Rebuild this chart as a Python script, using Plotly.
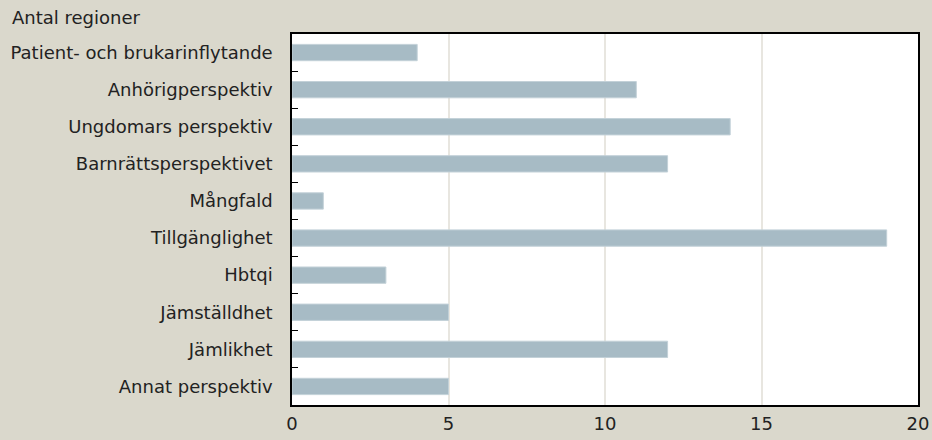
import plotly.graph_objects as go

categories = ["Patient- och brukarinflytande", "Anhörigperspektiv", "Ungdomars perspektiv",
              "Barnrättsperspektivet", "Mångfald", "Tillgänglighet", "Hbtqi",
              "Jämställdhet", "Jämlikhet", "Annat perspektiv"]
values = [4, 11, 14, 12, 1, 19, 3, 5, 12, 5]
x_ticks = [0, 5, 10, 15, 20]
y_title = "Antal regioner"

FONT = "DejaVu Sans"
FS = 18
fig = go.Figure(go.Bar(
    x=values, y=categories, orientation="h",
    marker=dict(color="#A7BBC5", line=dict(color="#C3D1D8", width=1)),
    width=0.44,
))
fig.update_layout(
    width=932, height=440,
    margin=dict(l=292, r=14, t=34, b=35, autoexpand=False),
    paper_bgcolor="#DAD8CC", plot_bgcolor="#FFFFFF",
    font=dict(family=FONT, size=FS, color="#222222"),
    showlegend=False,
    bargap=0.55,
)
fig.update_xaxes(
    range=[0, 20], tickvals=x_ticks, ticks="", showgrid=True, gridcolor="#E8E6E0", gridwidth=1.5,
    showline=True, linecolor="#000000", linewidth=1.5, mirror=True, zeroline=False, automargin=False,
    ticklabelstandoff=2, tickfont=dict(family=FONT, size=FS, color="#222222"),
)
fig.update_yaxes(
    autorange="reversed", ticks="inside", tickson="boundaries", ticklen=6, tickcolor="#000000",
    showline=True, linecolor="#000000", linewidth=1.5, mirror=True, showgrid=False, automargin=False,
    ticklabelstandoff=14, tickfont=dict(family=FONT, size=FS, color="#222222"),
)
fig.add_annotation(text=y_title, xref="paper", yref="paper", x=(10-292)/626, y=1, xanchor="left",
                   yanchor="bottom", yshift=4, showarrow=False,
                   font=dict(family=FONT, size=FS, color="#222222"))
fig.write_html("out.html")
